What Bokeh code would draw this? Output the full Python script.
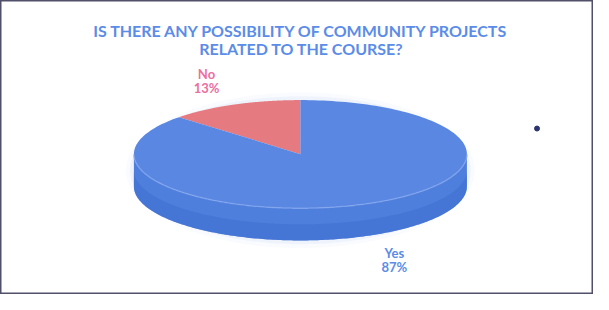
import numpy as np
from bokeh.plotting import figure
from bokeh.models import Range1d, ColumnDataSource
from bokeh.embed import file_html
from bokeh.resources import INLINE
from bokeh.core.properties import value

# ---- data ----
title_lines = ["IS THERE ANY POSSIBILITY OF COMMUNITY PROJECTS", "RELATED TO THE COURSE?"]
categories = ["No", "Yes"]
shares = [13, 87]
pct_labels = ["13%", "87%"]

# ---- style / layout ----
top_colors = ["#e57a80", "#5a87e2"]
label_colors = ["#ec6fa0", "#5b8ce8"]
side_color = "#4f7fdc"
W, H = 593, 294
cx, cy, a, b, depth = 308, 162, 171, 57, 34

p = figure(width=W, height=H, output_backend="svg", toolbar_location=None,
           x_range=Range1d(0, 609), y_range=Range1d(310, 0),
           min_border=0)
p.axis.visible = False
p.grid.visible = False
p.outline_line_color = "#50506a"
p.outline_line_width = 2
p.background_fill_color = "white"
p.border_fill_color = "white"

def ell(t, dy=0.0):
    return cx + a * np.cos(t), cy - b * np.sin(t) + dy

# soft glow under pie
gt = np.linspace(0, 2 * np.pi, 200)
for k, alpha in [(8, 0.06), (4, 0.10)]:
    gx = cx + (a + k) * np.cos(gt)
    gy = cy + depth / 2 - (b + depth / 2 + k) * np.sin(gt)
    p.patch(gx, gy, fill_color="#9fb8f0", fill_alpha=alpha, line_color=None)

# side face (front half)
ts = np.linspace(np.pi, 2 * np.pi, 200)
tx, ty = ell(ts)
bx, by = ell(ts[::-1], depth)
p.patch(np.concatenate([tx, bx]), np.concatenate([ty, by]),
        fill_color=side_color, line_color=None)
# darker bottom band
bx2, by2 = ell(ts[::-1], depth * 0.5)
p.patch(np.concatenate([bx2[::-1], bx]), np.concatenate([by2[::-1], by]),
        fill_color="#4070d2", fill_alpha=0.6, line_color=None)

# top face wedges, starting at 12 o'clock, going counter-clockwise
total = float(sum(shares))
start = np.pi / 2
xs, ys, mids = [], [], []
for s in shares:
    span = 2 * np.pi * s / total
    t = np.linspace(start, start + span, 200)
    ex, ey = ell(t)
    xs.append(np.concatenate([[cx], ex, [cx]]))
    ys.append(np.concatenate([[cy], ey, [cy]]))
    mids.append(start + span / 2)
    start += span
p.patches(xs, ys, fill_color=top_colors, line_color=None)

# rim highlight
rx, ry = ell(ts)
p.line(rx, ry, line_color="#86a8ef", line_width=1.5, line_alpha=0.7)

# data labels
lx, ly1, ly2 = [], [], []
for m in mids:
    x = cx + 1.42 * a * np.cos(m)
    y = cy - 1.48 * b * np.sin(m) + (depth if np.sin(m) < 0 else 0)
    lx.append(x)
    ly1.append(y - 7.5)
    ly2.append(y + 7.5)
src = ColumnDataSource(dict(x=lx, y1=ly1, y2=ly2, cat=categories, pct=pct_labels, col=label_colors))
p.text("x", "y1", text="cat", source=src, text_color="col", text_align="center",
       text_baseline="middle", text_font=value("Lato"), text_font_size="13px", text_font_style="bold")
p.text("x", "y2", text="pct", source=src, text_color="col", text_align="center",
       text_baseline="middle", text_font=value("Lato"), text_font_size="13px", text_font_style="bold")

# title
p.text([309, 309], [32, 51], text=title_lines, text_color="#5b8ce8", text_align="center",
       text_baseline="middle", text_font=value("Lato"), text_font_size="16px", text_font_style="bold")

# small stray legend marker
p.scatter([551], [135], size=5, color="#2c3470")

open("out.html", "w").write(file_html(p, INLINE))
